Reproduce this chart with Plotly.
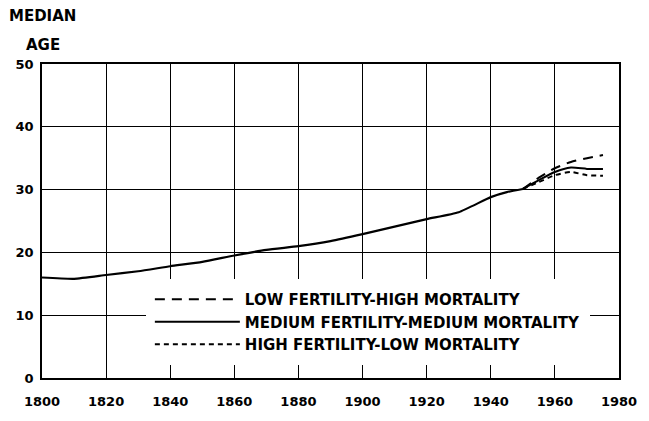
import plotly.graph_objects as go

# Historical median age (all series share it up to 1950)
hist_years = [1800, 1810, 1820, 1830, 1840, 1850, 1860, 1870, 1880, 1890,
              1900, 1910, 1920, 1930, 1940, 1945, 1950]
hist_age = [16.0, 15.8, 16.4, 17.0, 17.8, 18.5, 19.5, 20.4, 21.0, 21.8,
            22.9, 24.1, 25.3, 26.4, 28.8, 29.6, 30.1]

proj_years = [1950, 1955, 1960, 1965, 1970, 1975]
low_fert_high_mort = [30.1, 31.9, 33.4, 34.4, 35.0, 35.5]
med_fert_med_mort = [30.1, 31.5, 32.8, 33.5, 33.3, 33.3]
high_fert_low_mort = [30.1, 31.2, 32.3, 32.8, 32.3, 32.2]

x_ticks = [1800, 1820, 1840, 1860, 1880, 1900, 1920, 1940, 1960, 1980]
x_tick_labels = ["1800", "1820", "1840", "1860", "1880", "1900", "1920", "1940", "1960", "1980"]
y_ticks = [0, 10, 20, 30, 40, 50]

FONT = "DejaVu Sans"

fig = go.Figure()
fig.add_trace(go.Scatter(x=proj_years, y=low_fert_high_mort, mode="lines",
                         name="LOW FERTILITY-HIGH MORTALITY",
                         line=dict(color="black", width=2, dash="10px,7px", shape="spline", smoothing=0.6)))
fig.add_trace(go.Scatter(x=proj_years, y=med_fert_med_mort, mode="lines",
                         name="MEDIUM FERTILITY-MEDIUM MORTALITY",
                         line=dict(color="black", width=2, shape="spline", smoothing=0.6)))
fig.add_trace(go.Scatter(x=proj_years, y=high_fert_low_mort, mode="lines",
                         name="HIGH FERTILITY-LOW MORTALITY",
                         line=dict(color="black", width=2, dash="5px,4px", shape="spline", smoothing=0.6)))
fig.add_trace(go.Scatter(x=hist_years, y=hist_age, mode="lines", showlegend=False,
                         name="Historical",
                         line=dict(color="black", width=2.2, shape="spline", smoothing=0.5)))

fig.update_layout(
    width=649, height=421,
    margin=dict(l=42, r=22, t=64, b=32),
    paper_bgcolor="white", plot_bgcolor="white",
    font=dict(family=FONT, color="black", size=13),
    legend=dict(x=0.18, y=0.315, xanchor="left", yanchor="top",
                bgcolor="white", bordercolor="white", borderwidth=4,
                itemwidth=85, font=dict(family=FONT, size=15, weight="bold"),
                tracegroupgap=0, traceorder="normal"),
    annotations=[
        dict(text="MEDIAN", xref="paper", yref="paper", x=-0.06, y=1.0,
             xanchor="left", yanchor="middle", yshift=48, showarrow=False,
             font=dict(family=FONT, size=15, weight="bold")),
        dict(text="AGE", xref="paper", yref="paper", x=-0.032, y=1.0,
             xanchor="left", yanchor="middle", yshift=19, showarrow=False,
             font=dict(family=FONT, size=15, weight="bold")),
    ],
)
fig.update_xaxes(range=[1800, 1980], tickvals=x_ticks, ticktext=x_tick_labels,
                 showgrid=True, gridcolor="black", gridwidth=1.3,
                 showline=True, linecolor="black", linewidth=1.6, mirror=True,
                 zeroline=False, ticks="", ticklabelstandoff=11,
                 tickfont=dict(family=FONT, size=13, weight="bold"))
fig.update_yaxes(range=[0, 50], tickvals=y_ticks,
                 showgrid=True, gridcolor="black", gridwidth=1.3,
                 showline=True, linecolor="black", linewidth=1.6, mirror=True,
                 zeroline=False, ticks="", ticklabelstandoff=4,
                 tickfont=dict(family=FONT, size=13, weight="bold"))

fig.write_html("out.html", config={"displayModeBar": False},
               post_script="document.body.style.margin='0';")
